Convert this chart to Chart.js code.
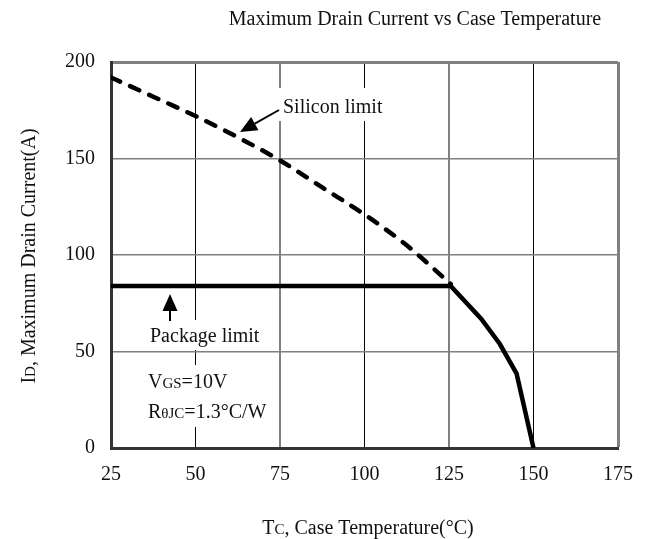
<!DOCTYPE html>
<html>
<head>
<meta charset="utf-8">
<script src="https://cdn.jsdelivr.net/npm/chart.js@4.4.0/dist/chart.umd.min.js"></script>
<style>
  html, body { margin: 0; padding: 0; background: #fff; }
  #wrap { width: 648px; height: 539px; }
</style>
</head>
<body>
<div id="wrap"><canvas id="myChart" width="648" height="539"></canvas></div>
<script>
// silicon limit (dashed)
var siliconTemp = [25, 37.5, 50, 62.5, 75, 87.5, 100, 112.5, 125.5];
var siliconCurrent = [192, 182, 172, 161, 149, 135, 121, 105, 85];
// package limit + derating (solid)
var packageTemp = [25, 125.5, 134.5, 140, 145, 150];
var packageCurrent = [84, 84, 67, 54, 38.5, 0];
var xTicks = [25, 50, 75, 100, 125, 150, 175];
var yTicks = [0, 50, 100, 150, 200];

var serif = '"Liberation Serif", "DejaVu Serif", serif';

function toPoints(xs, ys) {
    var pts = [];
    for (var i = 0; i < xs.length; i++) pts.push({ x: xs[i], y: ys[i] });
    return pts;
}

// text with smaller "subscript-like" parts
function drawParts(ctx, x, y, parts, align) {
    var total = 0;
    for (var i = 0; i < parts.length; i++) {
        ctx.font = parts[i][1] + 'px ' + serif;
        total += ctx.measureText(parts[i][0]).width;
    }
    var cx = align == 'center' ? x - total / 2 : x;
    ctx.textAlign = 'left';
    ctx.textBaseline = 'alphabetic';
    for (var j = 0; j < parts.length; j++) {
        ctx.font = parts[j][1] + 'px ' + serif;
        ctx.fillText(parts[j][0], cx, y);
        cx += ctx.measureText(parts[j][0]).width;
    }
}

function arrow(ctx, x1, y1, x2, y2) {
    var a = Math.atan2(y2 - y1, x2 - x1);
    var len = 17, w = 7.5;
    var bx = x2 - len * Math.cos(a), by = y2 - len * Math.sin(a);
    ctx.strokeStyle = '#000';
    ctx.lineWidth = 2;
    ctx.beginPath();
    ctx.moveTo(x1, y1);
    ctx.lineTo(bx, by);
    ctx.stroke();
    ctx.fillStyle = '#000';
    ctx.beginPath();
    ctx.moveTo(x2, y2);
    ctx.lineTo(bx + w * Math.sin(a), by - w * Math.cos(a));
    ctx.lineTo(bx - w * Math.sin(a), by + w * Math.cos(a));
    ctx.closePath();
    ctx.fill();
}

var notes = {
    id: 'notes',
    beforeDatasetsDraw: function (chart) {
        var ctx = chart.ctx;
        ctx.save();
        ctx.fillStyle = '#fff';
        ctx.fillRect(275, 88, 117, 33);
        ctx.fillRect(140, 320, 130, 30);
        ctx.fillRect(140, 365, 135, 62);
        ctx.restore();
    },
    afterDraw: function (chart) {
        var ctx = chart.ctx;
        ctx.save();
        ctx.fillStyle = '#111';
        drawParts(ctx, 415, 25, [['Maximum Drain Current vs Case Temperature', 20]], 'center');
        drawParts(ctx, 368, 534, [['T', 20], ['C', 15], [', Case Temperature(\u00b0C)', 20]], 'center');
        ctx.save();
        ctx.translate(35, 256);
        ctx.rotate(-Math.PI / 2);
        drawParts(ctx, 0, 0, [['I', 20], ['D', 15], [', Maximum Drain Current(A)', 20]], 'center');
        ctx.restore();

        drawParts(ctx, 283, 113, [['Silicon limit', 20]], 'left');
        drawParts(ctx, 150, 342, [['Package limit', 20]], 'left');
        drawParts(ctx, 148, 388, [['V', 20], ['GS', 15], ['=10V', 20]], 'left');
        drawParts(ctx, 148, 418, [['R', 20], ['\u03b8JC', 15], ['=1.3\u00b0C/W', 20]], 'left');

        arrow(ctx, 279, 110, 240, 132);
        arrow(ctx, 170, 321, 170, 294);
        ctx.restore();
    }
};

var ctx = document.getElementById('myChart').getContext('2d');
var myChart = new Chart(ctx, {
    type: 'line',
    data: {
        datasets: [{
            label: 'Silicon limit',
            data: toPoints(siliconTemp, siliconCurrent),
            borderColor: '#000',
            borderWidth: 4.5,
            borderDash: [10, 11],
            borderCapStyle: 'round',
            cubicInterpolationMode: 'monotone',
            pointRadius: 0,
            fill: false
        }, {
            label: 'Package limit',
            data: toPoints(packageTemp, packageCurrent),
            borderColor: '#000',
            borderWidth: 4.5,
            borderJoinStyle: 'miter',
            pointRadius: 0,
            tension: 0,
            fill: false
        }]
    },
    options: {
        responsive: false,
        animation: false,
        events: [],
        layout: { padding: { top: 62, right: 30, left: 0, bottom: 0 } },
        plugins: { legend: { display: false }, tooltip: { enabled: false } },
        scales: {
            x: {
                type: 'linear',
                min: 25,
                max: 175,
                afterFit: function (s) { s.height = 91; },
                afterBuildTicks: function (s) { s.ticks = xTicks.map(function (v) { return { value: v }; }); },
                ticks: { color: '#111', padding: 15, maxRotation: 0, font: { family: serif, size: 20 } },
                grid: {
                    drawTicks: false,
                    color: function (c) { return (c.tick && c.tick.value % 50 == 0) ? '#000' : '#808080'; },
                    lineWidth: function (c) {
                        if (!c.tick) return 1;
                        if (c.tick.value == 175) return 3;
                        return c.tick.value % 50 == 0 ? 1 : 2;
                    }
                },
                border: { color: '#333', width: 3 }
            },
            y: {
                min: 0,
                max: 200,
                afterFit: function (s) { s.width = 111; },
                afterBuildTicks: function (s) { s.ticks = yTicks.map(function (v) { return { value: v }; }); },
                ticks: { color: '#111', padding: 16, font: { family: serif, size: 20 } },
                grid: {
                    drawTicks: false,
                    color: '#808080',
                    lineWidth: function (c) { return (c.tick && c.tick.value == 200) ? 3 : 1.5; }
                },
                border: { color: '#333', width: 3 }
            }
        }
    },
    plugins: [notes]
});
</script>
</body>
</html>
